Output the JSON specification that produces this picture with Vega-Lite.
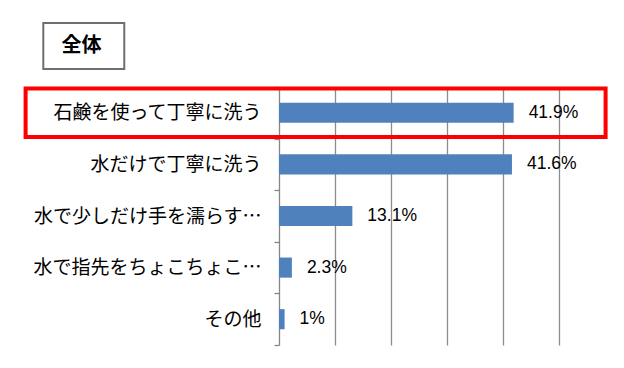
{
  "$schema": "https://vega.github.io/schema/vega-lite/v6.json",
  "background": "white",
  "padding": {"left": 23, "top": 22, "right": 5, "bottom": 5},
  "spacing": 8,
  "config": {"view": {"stroke": null}, "font": "Noto Sans CJK JP"},
  "vconcat": [
    {
      "width": 280,
      "height": 46,
      "data": {"values": [{"heading": "全体"}]},
      "layer": [
        {
          "mark": {"type": "rect", "filled": false, "color": "#6e6e6e", "strokeWidth": 2, "clip": false},
          "encoding": {
            "x": {"datum": -0.4209, "scale": {"domain": [0, 0.5], "nice": false}, "axis": null},
            "x2": {"datum": -0.2763}
          }
        },
        {
          "mark": {"type": "text", "font": "Noto Sans CJK JP", "fontSize": 20, "fontWeight": "bold", "color": "#000000", "clip": false},
          "encoding": {
            "x": {"datum": -0.3526, "axis": null},
            "text": {"field": "heading", "type": "nominal"}
          }
        }
      ]
    },
    {
      "width": 280,
      "height": 258,
      "data": {
        "values": [
          {"item": "石鹸を使って丁寧に洗う", "share": 0.419},
          {"item": "水だけで丁寧に洗う", "share": 0.416},
          {"item": "水で少しだけ手を濡らす…", "share": 0.131},
          {"item": "水で指先をちょこちょこ…", "share": 0.023},
          {"item": "その他", "share": 0.01}
        ]
      },
      "encoding": {
        "y": {
          "field": "item",
          "type": "nominal",
          "sort": null,
          "scale": {"paddingInner": 0, "paddingOuter": 0},
          "axis": {
            "title": null,
            "domainColor": "#868686",
            "domainWidth": 1.3,
            "tickColor": "#868686",
            "tickWidth": 1.3,
            "tickSize": 5,
            "tickBand": "extent",
            "labelFont": "Noto Sans CJK JP",
            "labelFontSize": 19,
            "labelColor": "#000000",
            "labelLimit": 0,
            "labelPadding": 13
          }
        }
      },
      "layer": [
        {
          "mark": {"type": "bar", "color": "#4F81BD", "height": {"band": 0.39}},
          "encoding": {
            "x": {
              "field": "share",
              "type": "quantitative",
              "scale": {"domain": [0, 0.5], "nice": false},
              "axis": {
                "values": [0.1, 0.2, 0.3, 0.4, 0.5],
                "labels": false,
                "ticks": false,
                "domain": false,
                "title": null,
                "grid": true,
                "gridColor": "#8c8c8c",
                "gridWidth": 1.3
              }
            }
          }
        },
        {
          "mark": {"type": "text", "align": "left", "baseline": "middle", "dx": 15, "font": "Liberation Sans", "fontSize": 17.5, "color": "#000000"},
          "encoding": {
            "x": {"field": "share", "type": "quantitative"},
            "text": {"field": "share", "type": "quantitative", "format": ".1~%"}
          }
        },
        {
          "transform": [{"filter": "datum.item === '石鹸を使って丁寧に洗う'"}],
          "mark": {"type": "rect", "filled": false, "color": "#FF0000", "strokeWidth": 4, "height": {"band": 0.94}, "clip": false},
          "encoding": {
            "x": {"datum": -0.4525},
            "x2": {"datum": 0.5832}
          }
        }
      ]
    }
  ]
}
